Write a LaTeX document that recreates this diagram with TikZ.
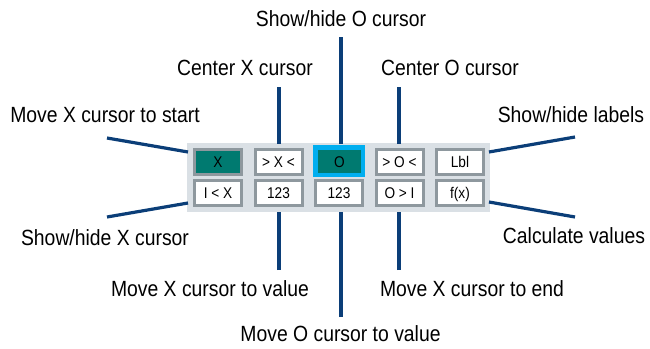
\documentclass[tikz,border=0pt]{standalone}
\usepackage{fontspec}
\setmainfont[FakeStretch=0.88]{Liberation Sans}
\definecolor{navy}{HTML}{0B3E78}
\definecolor{panelgray}{HTML}{DAE0E5}
\definecolor{btngray}{HTML}{8E989E}
\definecolor{tealbtn}{HTML}{007A70}
\definecolor{cyanbtn}{HTML}{00AEEF}
\begin{document}
\begin{tikzpicture}[x=1pt,y=-1pt,
  lbl/.style={font=\fontsize{22}{24}\selectfont, anchor=base, inner sep=0pt},
  btn/.style={draw=btngray, line width=3pt, fill=white, minimum width=47pt, minimum height=25pt,
    inner sep=0pt, text height=11pt, text depth=0pt, font=\fontsize{15.5}{17}\selectfont},
  conn/.style={draw=navy, line width=3.2pt}]
\useasboundingbox (0,0) rectangle (650,348);
% panel
\node[fill=panelgray, minimum width=303pt, minimum height=69pt, inner sep=0pt] (panel) at (338.5,177.5) {};
% row 1
\node[btn, fill=tealbtn] (bX) at (218,161.5) {X};
\node[btn] (bCX) at (278.5,161.5) {> X <};
\node[fill=cyanbtn, minimum width=52pt, minimum height=32pt, inner sep=0pt] (bOframe) at (339,161) {};
\node[fill=tealbtn, minimum width=43pt, minimum height=23pt, inner sep=0pt, text height=11pt, text depth=0pt, font=\fontsize{15.5}{17}\selectfont] (bO) at (339.5,161.5) {O};
\node[btn] (bCO) at (399.5,161.5) {> O <};
\node[btn] (bL) at (460,161.5) {Lbl};
% row 2
\node[btn] (bSX) at (218,193) {I < X};
\node[btn] (bVX) at (278.5,193) {123};
\node[btn] (bVO) at (339,193) {123};
\node[btn] (bEX) at (399.5,193) {O > I};
\node[btn] (bF) at (460,193) {f(x)};
% labels
\node[lbl] (tSO) at (341,27) {Show/hide O cursor};
\node[lbl] (tCX) at (245,75) {Center X cursor};
\node[lbl] (tCO) at (450,75) {Center O cursor};
\node[lbl] (tMS) at (105,122) {Move X cursor to start};
\node[lbl] (tSL) at (571,122) {Show/hide labels};
\node[lbl] (tSX) at (105,245) {Show/hide X cursor};
\node[lbl] (tCV) at (574,243) {Calculate values};
\node[lbl] (tVX) at (210,296) {Move X cursor to value};
\node[lbl] (tEX) at (472,296) {Move X cursor to end};
\node[lbl] (tVO) at (340.5,341) {Move O cursor to value};
% connector ends
\coordinate (a1) at (107,138); \coordinate (a2) at (188,152);
\coordinate (b1) at (107,217); \coordinate (b2) at (188,203);
\coordinate (c1) at (575,137); \coordinate (c2) at (489,152);
\coordinate (d1) at (575,217); \coordinate (d2) at (489,202);
\coordinate (e1) at (279,87);  \coordinate (e2) at (279,143.5);
\coordinate (f1) at (341,37);  \coordinate (f2) at (341,143.5);
\coordinate (g1) at (399,87);  \coordinate (g2) at (399,143.5);
\coordinate (h1) at (279,270); \coordinate (h2) at (279,211.5);
\coordinate (i1) at (341,317); \coordinate (i2) at (341,211.5);
\coordinate (j1) at (399,270); \coordinate (j2) at (399,211.5);
\draw[conn] (a1) -- (a2);
\draw[conn] (b1) -- (b2);
\draw[conn] (c1) -- (c2);
\draw[conn] (d1) -- (d2);
\draw[conn] (e1) -- (e2);
\draw[conn] (f1) -- (f2);
\draw[conn] (g1) -- (g2);
\draw[conn] (h1) -- (h2);
\draw[conn] (i1) -- (i2);
\draw[conn] (j1) -- (j2);
\end{tikzpicture}
\end{document}
